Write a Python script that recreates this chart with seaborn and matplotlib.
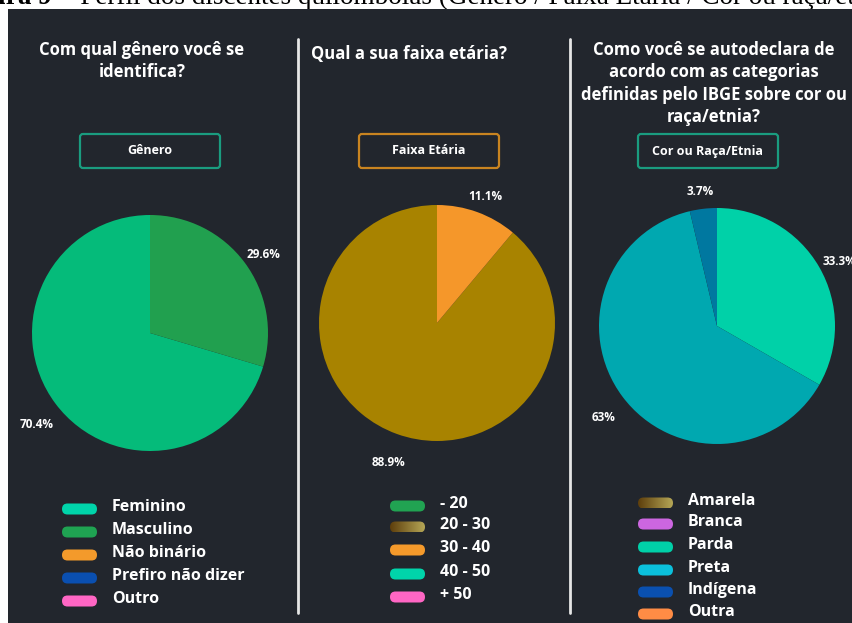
import numpy as np
import matplotlib
matplotlib.use("Agg")
import matplotlib.pyplot as plt
from matplotlib.patches import FancyBboxPatch, Rectangle
from matplotlib.lines import Line2D
import seaborn as sns

# ---------------- data ----------------
caption_bold = "Figura 9"
caption_rest = "– Perfil dos discentes quilombolas (Gênero / Faixa Etária / Cor ou raça/etnia)"

genero_title = "Com qual gênero você se\nidentifica?"
genero_box = "Gênero"
genero_cats = ["Feminino", "Masculino", "Não binário", "Prefiro não dizer", "Outro"]
genero_vals = [70.4, 29.6, 0, 0, 0]
genero_legend_colors = ["#00d4aa", "#1fa352", "#f39a2b", "#0a4fb0", "#ff66c4"]
genero_pie_colors = ["#05bb7a", "#21a04f", "#f39a2b", "#0a4fb0", "#ff66c4"]

faixa_title = "Qual a sua faixa etária?"
faixa_box = "Faixa Etária"
faixa_cats = ["- 20", "20 - 30", "30 - 40", "40 - 50", "+ 50"]
faixa_vals = [0, 88.9, 11.1, 0, 0]
faixa_legend_colors = ["#21a352", ("#5e3f0c", "#b5a656"), "#f59a2b", "#00d4aa", "#ff66c4"]
faixa_pie_colors = ["#21a352", "#a88300", "#f5972a", "#00d4aa", "#ff66c4"]

cor_title = ("Como você se autodeclara de\nacordo com as categorias\n"
             "definidas pelo IBGE sobre cor ou\nraça/etnia?")
cor_box = "Cor ou Raça/Etnia"
cor_cats = ["Amarela", "Branca", "Parda", "Preta", "Indígena", "Outra"]
cor_vals = [0, 0, 33.3, 63.0, 3.7, 0]
cor_legend_colors = [("#5e3f0c", "#b5a656"), "#cc66e0", "#00d0a8", "#0bc0dc", "#0a50b0", "#ff8c45"]
cor_pie_colors = ["#a88300", "#cc66e0", "#00d1a8", "#00a8b0", "#0078a0", "#ff8c45"]

# ---------------- style ----------------
sns.set_theme(style="dark")
plt.rcParams['font.family'] = ['Open Sans', 'DejaVu Sans']

W, H = 853, 623
BG = "#22262d"
FONT = ['Open Sans', 'DejaVu Sans']

fig = plt.figure(figsize=(W / 100, H / 100), dpi=100)
fig.patch.set_facecolor("white")

bg = fig.add_axes([0, 0, 1, 1], zorder=-1)
bg.set_xlim(0, W)
bg.set_ylim(H, 0)
bg.axis("off")

# caption (cut by the panel)
bg.text(52, 4, caption_bold, family=['Liberation Serif'], weight='bold', fontsize=19.5,
        ha='right', va='baseline', color='black', zorder=0)
bg.text(60, 4, caption_rest, family=['Liberation Serif'], fontsize=19.5,
        ha='left', va='baseline', color='black', zorder=0)
bg.add_patch(Rectangle((8, 9), W, H, facecolor=BG, edgecolor='none', zorder=1))

# dividers
for x in (298, 570):
    bg.add_line(Line2D([x, x], [39, 613], color="#e6e6e6", lw=2, zorder=2))

panels = [
    dict(title=genero_title, title_x=142, title_y=51, box=genero_box, box_x=(80, 220),
         box_color="#1a9c7f", cats=genero_cats, vals=genero_vals,
         lcolors=genero_legend_colors, pcolors=genero_pie_colors,
         center=(150, 333), ccw=True, leg_hx=62, leg_tx=112,
         leg_y=[509, 532, 555, 578, 601]),
    dict(title=faixa_title, title_x=409, title_y=55, box=faixa_box, box_x=(359, 499),
         box_color="#c98420", cats=faixa_cats, vals=faixa_vals,
         lcolors=faixa_legend_colors, pcolors=faixa_pie_colors,
         center=(437, 323), ccw=True, leg_hx=390, leg_tx=440,
         leg_y=[506, 527, 550, 574, 597]),
    dict(title=cor_title, title_x=714, title_y=51, box=cor_box, box_x=(638, 778),
         box_color="#1a9c7f", cats=cor_cats, vals=cor_vals,
         lcolors=cor_legend_colors, pcolors=cor_pie_colors,
         center=(717, 326), ccw=False, leg_hx=638, leg_tx=688,
         leg_y=[503, 524, 547, 570, 592, 614]),
]

R = 118


def fmt(p):
    s = f"{p:.1f}"
    if s.endswith(".0"):
        s = s[:-2]
    return s + "%"


for p in panels:
    # title
    bg.text(p["title_x"], p["title_y"] - 10, p["title"], color="white", fontsize=12,
            family=FONT, weight='bold', ha='center', va='top',
            linespacing=1.32, zorder=3)
    # box
    x0, x1 = p["box_x"]
    bg.add_patch(FancyBboxPatch((x0, 134), x1 - x0, 34,
                                boxstyle="round,pad=0,rounding_size=3",
                                facecolor='none', edgecolor=p["box_color"], lw=1.6, zorder=3))
    bg.text((x0 + x1) / 2, 151, p["box"], color="white", fontsize=9, family=FONT,
            weight='bold', ha='center', va='center', zorder=3)

    # legend
    for cat, col, y in zip(p["cats"], p["lcolors"], p["leg_y"]):
        hx = p["leg_hx"]
        patch = FancyBboxPatch((hx, y - 5.5), 35, 11,
                               boxstyle="round,pad=0,rounding_size=5.5",
                               facecolor=col if isinstance(col, str) else 'none',
                               edgecolor='none', zorder=3)
        bg.add_patch(patch)
        if not isinstance(col, str):
            cmap = sns.blend_palette(list(col), as_cmap=True)
            grad = np.linspace(0, 1, 64).reshape(1, -1)
            im = bg.imshow(grad, cmap=cmap, extent=[hx, hx + 35, y + 5.5, y - 5.5],
                           aspect='auto', zorder=3)
            im.set_clip_path(patch)
        bg.text(p["leg_tx"], y - 2, cat, color="white", fontsize=11.5, family=FONT,
                weight='bold', ha='left', va='center', zorder=3)

    # pie
    cx, cy = p["center"]
    ax = fig.add_axes([(cx - R) / W, 1 - (cy + R) / H, 2 * R / W, 2 * R / H])
    vals = [v for v in p["vals"] if v > 0]
    cols = [c for v, c in zip(p["vals"], p["pcolors"]) if v > 0]
    wedges, texts, autotexts = ax.pie(
        vals, colors=cols, startangle=90, counterclock=p["ccw"],
        autopct=fmt, pctdistance=1.2, radius=1,
        wedgeprops=dict(linewidth=0),
        textprops=dict(color="white", fontsize=8.5, weight='bold', family=FONT))
    for t in autotexts:
        t.set_va('top')
    ax.set_xlim(-1, 1)
    ax.set_ylim(-1, 1)
    ax.set_aspect('equal')
    ax.axis('off')

fig.savefig("out.png", dpi=100, facecolor="white")
